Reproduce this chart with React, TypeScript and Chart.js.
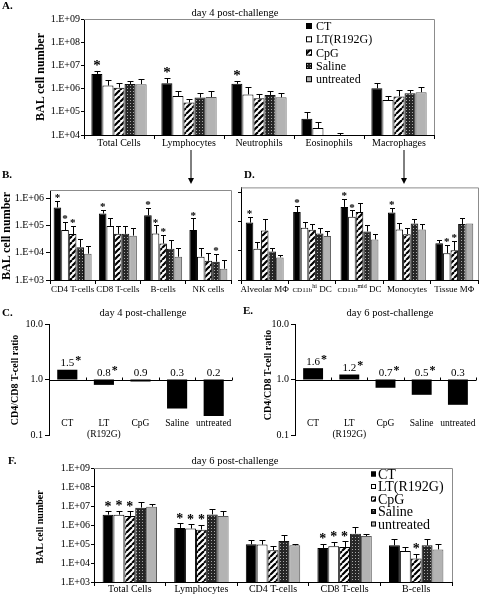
import React, { useEffect, useRef } from "react";
import { Chart, registerables } from "chart.js";

Chart.register(...registerables);

const FONT = "'Liberation Serif', 'Times New Roman', Times, serif";
Chart.defaults.font.family = FONT;
Chart.defaults.color = "#000";

// ---------------- data ----------------
const groups = ["CT", "LT(R192G)", "CpG", "Saline", "untreated"];

// Panel A: day 4, BAL cell number (rows = groups)
const aCategories = ["Total Cells", "Lymphocytes", "Neutrophils", "Eosinophils", "Macrophages"];
const aMean: (number | null)[][] = [
  [4.3e6, 1.7e6, 1.6e6, 5e4, 1.03e6],
  [1.35e6, 4.8e5, 5.6e5, 2e4, 3.2e5],
  [1.1e6, 2.5e5, 3.8e5, null, 4.6e5],
  [1.58e6, 4.1e5, 5.3e5, null, 6.3e5],
  [1.55e6, 4.3e5, 4.2e5, null, 7e5],
];
const aErr: (number | null)[][] = [
  [5.9e6, 2.9e6, 2.1e6, 1e5, 1.7e6],
  [2.3e6, 7.9e5, 1.15e6, 3.8e4, 5e5],
  [1.7e6, 3.5e5, 5.6e5, null, 8.7e5],
  [2.2e6, 6.3e5, 7.9e5, 1.25e4, 8.7e5],
  [2.5e6, 8e5, 6.6e5, null, 1.2e6],
];
const aStars = [
  [1, 1, 1, 0, 0],
  [0, 0, 0, 0, 0],
  [0, 0, 0, 0, 0],
  [0, 0, 0, 0, 0],
  [0, 0, 0, 0, 0],
];
const aYTicks = [1e4, 1e5, 1e6, 1e7, 1e8, 1e9];
const aYLabels = ["1.E+04", "1.E+05", "1.E+06", "1.E+07", "1.E+08", "1.E+09"];

// Panel B: lymphocyte subsets
const bCategories = ["CD4 T-cells", "CD8 T-cells", "B-cells", "NK cells"];
const bMean: (number | null)[][] = [
  [4.7e5, 2.8e5, 2.4e5, 6.9e4],
  [6.9e4, 9.8e4, 5.1e4, 7.2e3],
  [4.9e4, 5e4, 2.2e4, 5.1e3],
  [1.6e4, 5e4, 1.4e4, 4.7e3],
  [9.3e3, 4.3e4, 7.2e3, 2.6e3],
];
const bErr: (number | null)[][] = [
  [8e5, 3.9e5, 4.5e5, 1.85e5],
  [1.4e5, 2e5, 1.03e5, 1.5e4],
  [9.8e4, 9.8e4, 4.6e4, 1e4],
  [3.1e4, 9.8e4, 2.9e4, 9.3e3],
  [1.8e4, 8.5e4, 1.45e4, 5.4e3],
];
const bStars = [
  [1, 1, 1, 1],
  [1, 0, 1, 0],
  [1, 0, 1, 0],
  [0, 0, 0, 1],
  [0, 0, 0, 0],
];
const bYTicks = [1e3, 1e4, 1e5, 1e6];
const bYLabels = ["1.E+03", "1.E+04", "1.E+05", "1.E+06"];

// Panel D: macrophage subsets
const dCategories = ["Alveolar M\u03A6", "CD11b^hi DC", "CD11b^mid DC", "Monocytes", "Tissue M\u03A6"];
const dMean: (number | null)[][] = [
  [9.5e4, 2.2e5, 3.3e5, 2.1e5, 1.86e4],
  [1.2e4, 6.3e4, 1.5e5, 5.5e4, 8.3e3],
  [5.1e4, 5.4e4, 2.2e5, 3.8e4, 1.05e4],
  [9.5e3, 4e4, 4.7e4, 8.8e4, 8.5e4],
  [6e3, 3.3e4, 2.5e4, 5.5e4, 8.8e4],
];
const dErr: (number | null)[][] = [
  [1.5e5, 3.5e5, 6.3e5, 3.1e5, 2.3e4],
  [2.05e4, 9.8e4, 2.5e5, 9e4, 1.65e4],
  [1.3e5, 8.3e4, 4.4e5, 6.1e4, 2.2e4],
  [1.3e4, 6.1e4, 7.9e4, 1.26e5, 1.4e5],
  [7.1e3, 5e4, 3.7e4, 8.3e4, null],
];
const dStars = [
  [1, 1, 1, 1, 0],
  [0, 0, 1, 0, 1],
  [0, 0, 0, 0, 1],
  [0, 0, 0, 0, 0],
  [0, 0, 0, 0, 0],
];
const dYTicks = [1e3, 1e4, 1e5, 1e6];

// Panels C / E: CD4/CD8 ratio
const ratioCategories: (string | string[])[] = ["CT", ["LT", "(R192G)"], "CpG", "Saline", "untreated"];
const cRatio = [1.5, 0.8, 0.92, 0.3, 0.22];
const cLabels = ["1.5", "0.8", "0.9", "0.3", "0.2"];
const cStars = [1, 1, 0, 0, 0];
const eRatio = [1.6, 1.23, 0.71, 0.53, 0.35];
const eLabels = ["1.6", "1.2", "0.7", "0.5", "0.3"];
const eStars = [1, 1, 1, 1, 0];
const ratioTicks = [0.1, 1, 10];
const ratioTickLabels = ["0.1", "1.0", "10.0"];

// Panel F: day 6
const fCategories = ["Total Cells", "Lymphocytes", "CD4 T-cells", "CD8 T-cells", "B-cells"];
const fMean: (number | null)[][] = [
  [3.5e6, 7e5, 9.6e4, 6.2e4, 8.5e4],
  [3.5e6, 6.5e5, 9.3e4, 7.6e4, 4.3e4],
  [3e6, 5.7e5, 4.7e4, 7e4, 1.7e4],
  [8.2e6, 3.6e6, 1.45e5, 3.5e5, 8.5e4],
  [9.2e6, 3e6, 8.5e4, 2.6e5, 5.2e4],
];
const fErr: (number | null)[][] = [
  [5.5e6, 1.2e6, 1.6e5, 1.05e5, 1.75e5],
  [5.7e6, 1.1e6, 1.6e5, 1.3e5, 6.8e4],
  [5.3e6, 1.05e6, 7.5e4, 1.4e5, 3.1e4],
  [1.6e7, 7.2e6, 2.9e5, 7.8e5, 1.9e5],
  [1.3e7, 5.2e6, 1.05e5, 3.5e5, 1.05e5],
];
const fStars = [
  [1, 1, 0, 1, 0],
  [1, 1, 0, 1, 0],
  [1, 1, 0, 1, 1],
  [0, 0, 0, 0, 0],
  [0, 0, 0, 0, 0],
];
const fYTicks = [1e3, 1e4, 1e5, 1e6, 1e7, 1e8, 1e9];
const fYLabels = ["1.E+03", "1.E+04", "1.E+05", "1.E+06", "1.E+07", "1.E+08", "1.E+09"];

// ---------------- helpers ----------------
type Area = { left: number; top: number; right: number; bottom: number };

function makeFills(ctx: CanvasRenderingContext2D): (string | CanvasPattern)[] {
  const s = document.createElement("canvas");
  s.width = 6;
  s.height = 6;
  const g = s.getContext("2d")!;
  g.fillStyle = "#fff";
  g.fillRect(0, 0, 6, 6);
  g.strokeStyle = "#000";
  g.lineWidth = 2.2;
  for (const k of [-6, 0, 6]) {
    g.beginPath();
    g.moveTo(k, 6);
    g.lineTo(k + 6, 0);
    g.stroke();
  }
  const d = document.createElement("canvas");
  d.width = 3;
  d.height = 3;
  const h = d.getContext("2d")!;
  h.fillStyle = "#262626";
  h.fillRect(0, 0, 3, 3);
  h.fillStyle = "#a8a8a8";
  h.fillRect(1, 1, 1, 1);
  return ["#000", "#fff", ctx.createPattern(s, "repeat")!, ctx.createPattern(d, "repeat")!, "#b3b3b3"];
}
const borders = ["#000", "#000", "#000", "#111", "#5a5a5a"];

function drawStar(ctx: CanvasRenderingContext2D, x: number, top: number, size: number, gap: number) {
  ctx.save();
  ctx.font = `bold ${size}px ${FONT}`;
  ctx.textAlign = "center";
  ctx.textBaseline = "alphabetic";
  ctx.fillStyle = "#000";
  ctx.fillText("*", x, top - gap + 0.47 * size);
  ctx.restore();
}

interface GroupedOpts {
  W: number;
  H: number;
  area: Area;
  categories: string[];
  mean: (number | null)[][];
  err: (number | null)[][];
  stars: number[][];
  yMin: number;
  yMax: number;
  yTicks: number[];
  yLabels: string[] | null;
  catPct: number;
  xFont: number;
  xPad: number;
  yFont: number;
  yTickLen: number;
  yPad: number;
  cap: number;
  starSize: number;
  starGap: number;
  legend?: { sqX: number; y0: number; step: number; sq: number; textX: number; font: number };
  rich?: { y: number; big: number; small: number; sup: number };
}

function groupedChart(canvas: HTMLCanvasElement, o: GroupedOpts) {
  const ctx = canvas.getContext("2d")!;
  const fills = makeFills(ctx);
  const datasets = groups.map((g, gi) => ({
    label: g,
    data: o.mean[gi],
    backgroundColor: fills[gi],
    borderColor: borders[gi],
    borderWidth: 1,
    barPercentage: 1,
    categoryPercentage: o.catPct,
  }));
  const decor = {
    id: "decor",
    afterDatasetsDraw(chart: any) {
      const c = chart.ctx as CanvasRenderingContext2D;
      const ys = chart.scales.y;
      const bottom = chart.chartArea.bottom;
      chart.data.datasets.forEach((ds: any, di: number) => {
        const meta = chart.getDatasetMeta(di);
        meta.data.forEach((bar: any, i: number) => {
          const x = bar.x;
          if (!isFinite(x)) return;
          const v = ds.data[i];
          const base = v == null ? bottom : bar.y;
          const hi = o.err[di][i];
          let top = base;
          if (hi != null) {
            top = ys.getPixelForValue(hi);
            c.save();
            c.strokeStyle = "#000";
            c.lineWidth = 1;
            c.beginPath();
            const xx = Math.round(x) + 0.5;
            c.moveTo(xx, base);
            c.lineTo(xx, Math.round(top) + 0.5);
            c.moveTo(xx - o.cap, Math.round(top) + 0.5);
            c.lineTo(xx + o.cap, Math.round(top) + 0.5);
            c.stroke();
            c.restore();
          }
          if (o.stars[di][i]) drawStar(c, x, top, o.starSize, o.starGap);
        });
      });
    },
    afterDraw(chart: any) {
      const c = chart.ctx as CanvasRenderingContext2D;
      const a = chart.chartArea;
      c.save();
      c.strokeStyle = "#8c8c8c";
      c.lineWidth = 1;
      c.beginPath();
      c.moveTo(a.left, a.top + 0.5);
      c.lineTo(Math.round(a.right) + 0.5, a.top + 0.5);
      c.lineTo(Math.round(a.right) + 0.5, a.bottom);
      c.stroke();
      c.restore();
      if (o.legend) {
        const L = o.legend;
        chart.data.datasets.forEach((ds: any, di: number) => {
          const cy = L.y0 + di * L.step;
          c.save();
          c.fillStyle = ds.backgroundColor;
          c.fillRect(L.sqX, cy - L.sq / 2, L.sq, L.sq);
          c.strokeStyle = "#000";
          c.lineWidth = 1;
          c.strokeRect(L.sqX + 0.5, cy - L.sq / 2 + 0.5, L.sq - 1, L.sq - 1);
          c.fillStyle = "#000";
          c.font = `${L.font}px ${FONT}`;
          c.textAlign = "left";
          c.textBaseline = "middle";
          c.fillText(ds.label, L.textX, cy + 1);
          c.restore();
        });
      }
      if (o.rich) {
        const R = o.rich;
        const xs = chart.scales.x;
        o.categories.forEach((lab, i) => {
          const cx = xs.getPixelForValue(i);
          const m = lab.match(/^(.*?)\^(\S+)(.*)$/);
          const parts = m
            ? [
                { t: m[1], size: R.small, dy: 0 },
                { t: m[2], size: R.sup, dy: -4 },
                { t: m[3], size: R.big, dy: 0 },
              ]
            : [{ t: lab, size: R.big, dy: 0 }];
          c.save();
          c.fillStyle = "#000";
          c.textBaseline = "alphabetic";
          c.textAlign = "left";
          let total = 0;
          const widths = parts.map((p) => {
            c.font = `${p.size}px ${FONT}`;
            const w = c.measureText(p.t).width;
            total += w;
            return w;
          });
          let x = cx - total / 2;
          parts.forEach((p, k) => {
            c.font = `${p.size}px ${FONT}`;
            c.fillText(p.t, x, R.y + 3 + p.dy);
            x += widths[k];
          });
          c.restore();
        });
      }
    },
  };
  return new Chart(ctx, {
    type: "bar",
    data: { labels: o.categories, datasets: datasets as any },
    options: {
      responsive: false,
      animation: false,
      events: [],
      layout: { padding: { left: 0, top: o.area.top, right: o.W - o.area.right, bottom: 0 } },
      plugins: { legend: { display: false }, title: { display: false }, tooltip: { enabled: false } },
      scales: {
        x: {
          type: "category",
          offset: true,
          grid: { display: true, offset: true, drawOnChartArea: false, drawTicks: true, tickLength: 4, color: "#000" },
          border: { display: true, color: "#000", width: 1 },
          ticks: {
            display: !o.rich,
            autoSkip: false,
            maxRotation: 0,
            minRotation: 0,
            padding: o.xPad,
            font: { size: o.xFont },
            color: "#000",
          },
          afterFit: (s: any) => {
            s.height = o.H - o.area.bottom;
          },
        },
        y: {
          type: "logarithmic",
          min: o.yMin,
          max: o.yMax,
          afterBuildTicks: (s: any) => {
            s.ticks = o.yTicks.map((v) => ({ value: v }));
          },
          ticks: {
            autoSkip: false,
            padding: o.yPad,
            font: { size: o.yFont },
            color: "#000",
            callback: (_v: any, i: number) => (o.yLabels ? o.yLabels[i] : ""),
          },
          grid: { display: true, drawOnChartArea: false, drawTicks: true, tickLength: o.yTickLen, color: "#000" },
          border: { display: true, color: "#000", width: 1 },
          afterFit: (s: any) => {
            s.width = o.area.left;
          },
        },
      } as any,
    },
    plugins: [decor],
  });
}

interface RatioOpts {
  W: number;
  H: number;
  area: Area;
  ratio: number[];
  labels: string[];
  stars: number[];
}

function ratioChart(canvas: HTMLCanvasElement, o: RatioOpts) {
  const ctx = canvas.getContext("2d")!;
  const decor = {
    id: "ratioDecor",
    afterDatasetsDraw(chart: any) {
      const c = chart.ctx as CanvasRenderingContext2D;
      const xs = chart.scales.x;
      const ys = chart.scales.y;
      const a = chart.chartArea;
      const y1 = Math.round(ys.getPixelForValue(1)) + 0.5;
      c.save();
      c.strokeStyle = "#000";
      c.lineWidth = 1;
      c.beginPath();
      c.moveTo(a.left, y1);
      c.lineTo(a.right, y1);
      for (let i = 1; i <= ratioCategories.length; i++) {
        const bx = Math.round(xs.getPixelForValue(i - 0.5)) + 0.5;
        c.moveTo(bx, y1);
        c.lineTo(bx, y1 - 3);
      }
      c.stroke();
      // category labels
      const yb = ys.getPixelForValue(0.1);
      c.fillStyle = "#000";
      c.font = `9.5px ${FONT}`;
      c.textAlign = "center";
      c.textBaseline = "middle";
      ratioCategories.forEach((lab, i) => {
        const cx = xs.getPixelForValue(i);
        const lines = Array.isArray(lab) ? lab : [lab];
        lines.forEach((t, k) => c.fillText(t, cx, yb - 12 + k * 11.5));
      });
      // value labels + stars
      const meta = chart.getDatasetMeta(0);
      meta.data.forEach((bar: any, i: number) => {
        const topPx = Math.min(ys.getPixelForValue(o.ratio[i]), ys.getPixelForValue(1));
        const ly = topPx - 6.5;
        c.font = `11px ${FONT}`;
        c.textAlign = "center";
        c.textBaseline = "middle";
        c.fillText(o.labels[i], bar.x, ly);
        if (o.stars[i]) {
          const w = c.measureText(o.labels[i]).width;
          c.font = `bold 12px ${FONT}`;
          c.textBaseline = "alphabetic";
          c.fillText("*", bar.x + w / 2 + 4, ly - 4.5 + 0.47 * 12);
        }
      });
      c.restore();
    },
  };
  return new Chart(ctx, {
    type: "bar",
    data: {
      labels: ratioCategories.map((l) => (Array.isArray(l) ? l.join(" ") : l)),
      datasets: [
        {
          data: o.ratio.map((v) => [1, v]) as any,
          backgroundColor: "#000",
          borderWidth: 0,
          barPercentage: 0.55,
          categoryPercentage: 1,
        },
      ],
    },
    options: {
      responsive: false,
      animation: false,
      events: [],
      layout: { padding: { left: 0, top: o.area.top, right: o.W - o.area.right, bottom: o.H - o.area.bottom } },
      plugins: { legend: { display: false }, title: { display: false }, tooltip: { enabled: false } },
      scales: {
        x: { type: "category", display: false, offset: true },
        y: {
          type: "logarithmic",
          min: 0.1,
          max: 10,
          afterBuildTicks: (s: any) => {
            s.ticks = ratioTicks.map((v) => ({ value: v }));
          },
          ticks: {
            autoSkip: false,
            padding: 2,
            font: { size: 10 },
            color: "#000",
            callback: (_v: any, i: number) => ratioTickLabels[i],
          },
          grid: { display: true, drawOnChartArea: false, drawTicks: true, tickLength: 4, color: "#000" },
          border: { display: true, color: "#000", width: 1 },
          afterFit: (s: any) => {
            s.width = o.area.left;
          },
        },
      } as any,
    },
    plugins: [decor],
  });
}

// ---------------- layout ----------------
const boxes = {
  A: { left: 0, top: 0, W: 480, H: 150 },
  B: { left: 0, top: 182, W: 238, H: 118 },
  D: { left: 238, top: 182, W: 242, H: 118 },
  C: { left: 0, top: 300, W: 240, H: 145 },
  E: { left: 240, top: 300, W: 240, H: 145 },
  F: { left: 0, top: 455, W: 480, H: 139 },
};

type TextItem = { t: string; x: number; y: number; size: number; bold?: boolean; rot?: boolean; align?: "left" | "center" };
const texts: TextItem[] = [
  { t: "A.", x: 2, y: 5, size: 11, bold: true, align: "left" },
  { t: "day 4 post-challenge", x: 235, y: 13, size: 10.5 },
  { t: "BAL cell number", x: 40, y: 77, size: 12, bold: true, rot: true },
  { t: "B.", x: 2, y: 174, size: 11, bold: true, align: "left" },
  { t: "D.", x: 244, y: 174, size: 11, bold: true, align: "left" },
  { t: "BAL cell number", x: 6, y: 236, size: 12, bold: true, rot: true },
  { t: "C.", x: 2, y: 312, size: 11, bold: true, align: "left" },
  { t: "day 4 post-challenge", x: 143, y: 313, size: 10.5 },
  { t: "CD4/CD8 T-cell ratio", x: 15, y: 380, size: 10, bold: true, rot: true },
  { t: "E.", x: 243, y: 310, size: 11, bold: true, align: "left" },
  { t: "day 6 post-challenge", x: 390, y: 313, size: 10.5 },
  { t: "CD4/CD8 T-cell ratio", x: 268, y: 375, size: 10, bold: true, rot: true },
  { t: "F.", x: 8, y: 460, size: 11, bold: true, align: "left" },
  { t: "day 6 post-challenge", x: 235, y: 461, size: 10.5 },
  { t: "BAL cell number", x: 40, y: 527, size: 10, bold: true, rot: true },
];

function Txt({ it }: { it: TextItem }) {
  const style: React.CSSProperties = {
    position: "absolute",
    left: it.x,
    top: it.y,
    fontSize: it.size,
    fontWeight: it.bold ? "bold" : "normal",
    whiteSpace: "nowrap",
    lineHeight: 1,
    color: "#000",
    fontFamily: FONT,
    transform: it.rot
      ? "translate(-50%, -50%) rotate(-90deg)"
      : it.align === "left"
      ? "translate(0, -50%)"
      : "translate(-50%, -50%)",
  };
  return <div style={style}>{it.t}</div>;
}

export default function App() {
  const refA = useRef<HTMLCanvasElement>(null);
  const refB = useRef<HTMLCanvasElement>(null);
  const refD = useRef<HTMLCanvasElement>(null);
  const refC = useRef<HTMLCanvasElement>(null);
  const refE = useRef<HTMLCanvasElement>(null);
  const refF = useRef<HTMLCanvasElement>(null);

  useEffect(() => {
    const charts: Chart[] = [];
    charts.push(
      groupedChart(refA.current!, {
        W: boxes.A.W,
        H: boxes.A.H,
        area: { left: 84, top: 19, right: 434, bottom: 135 },
        categories: aCategories,
        mean: aMean,
        err: aErr,
        stars: aStars,
        yMin: 1e4,
        yMax: 1e9,
        yTicks: aYTicks,
        yLabels: aYLabels,
        catPct: 0.79,
        xFont: 10,
        xPad: -2,
        yFont: 10,
        yTickLen: 3,
        yPad: 1,
        cap: 3,
        starSize: 15,
        starGap: 8,
        legend: { sqX: 306, y0: 26, step: 13.3, sq: 6, textX: 316, font: 12 },
      })
    );
    charts.push(
      groupedChart(refB.current!, {
        W: boxes.B.W,
        H: boxes.B.H,
        area: { left: 50, top: 3, right: 231, bottom: 98 },
        categories: bCategories,
        mean: bMean,
        err: bErr,
        stars: bStars,
        yMin: 1e3,
        yMax: 2.06e6,
        yTicks: bYTicks,
        yLabels: bYLabels,
        catPct: 0.84,
        xFont: 9,
        xPad: 0,
        yFont: 10,
        yTickLen: 4,
        yPad: 2,
        cap: 2.5,
        starSize: 11,
        starGap: 5,
      })
    );
    charts.push(
      groupedChart(refD.current!, {
        W: boxes.D.W,
        H: boxes.D.H,
        area: { left: 3, top: 3, right: 240, bottom: 98 },
        categories: dCategories,
        mean: dMean,
        err: dErr,
        stars: dStars,
        yMin: 1e3,
        yMax: 1.55e6,
        yTicks: dYTicks,
        yLabels: null,
        catPct: 0.8,
        xFont: 9,
        xPad: 0,
        yFont: 9,
        yTickLen: 3,
        yPad: 0,
        cap: 2.5,
        starSize: 11,
        starGap: 5,
        rich: { y: 107, big: 9, small: 7, sup: 6 },
      })
    );
    charts.push(
      ratioChart(refC.current!, {
        W: boxes.C.W,
        H: boxes.C.H,
        area: { left: 49, top: 24, right: 232, bottom: 135 },
        ratio: cRatio,
        labels: cLabels,
        stars: cStars,
      })
    );
    charts.push(
      ratioChart(refE.current!, {
        W: boxes.E.W,
        H: boxes.E.H,
        area: { left: 55, top: 24, right: 236, bottom: 135 },
        ratio: eRatio,
        labels: eLabels,
        stars: eStars,
      })
    );
    charts.push(
      groupedChart(refF.current!, {
        W: boxes.F.W,
        H: boxes.F.H,
        area: { left: 94, top: 13, right: 452, bottom: 127 },
        categories: fCategories,
        mean: fMean,
        err: fErr,
        stars: fStars,
        yMin: 1e3,
        yMax: 1e9,
        yTicks: fYTicks,
        yLabels: fYLabels,
        catPct: 0.76,
        xFont: 10,
        xPad: -3,
        yFont: 10,
        yTickLen: 3,
        yPad: 1,
        cap: 3,
        starSize: 14,
        starGap: 7,
        legend: { sqX: 371, y0: 19, step: 12.5, sq: 5, textX: 378, font: 14 },
      })
    );
    return () => charts.forEach((c) => c.destroy());
  }, []);

  const cv = (ref: React.RefObject<HTMLCanvasElement>, b: { left: number; top: number; W: number; H: number }) => (
    <canvas ref={ref} width={b.W} height={b.H} style={{ position: "absolute", left: b.left, top: b.top, width: b.W, height: b.H }} />
  );

  return (
    <div style={{ position: "absolute", left: 0, top: 0, width: 480, height: 594, background: "#fff", overflow: "hidden", fontFamily: FONT }}>
      {cv(refA, boxes.A)}
      {cv(refB, boxes.B)}
      {cv(refD, boxes.D)}
      {cv(refC, boxes.C)}
      {cv(refE, boxes.E)}
      {cv(refF, boxes.F)}
      <svg width={480} height={594} style={{ position: "absolute", left: 0, top: 0, pointerEvents: "none" }}>
        <line x1={191} y1={150} x2={191} y2={179} stroke="#000" strokeWidth={1} />
        <polygon points="188,178 194,178 191,184" fill="#000" />
        <line x1={404} y1={150} x2={404} y2={179} stroke="#000" strokeWidth={1} />
        <polygon points="401,178 407,178 404,184" fill="#000" />
      </svg>
      {texts.map((it, i) => (
        <Txt key={i} it={it} />
      ))}
    </div>
  );
}
